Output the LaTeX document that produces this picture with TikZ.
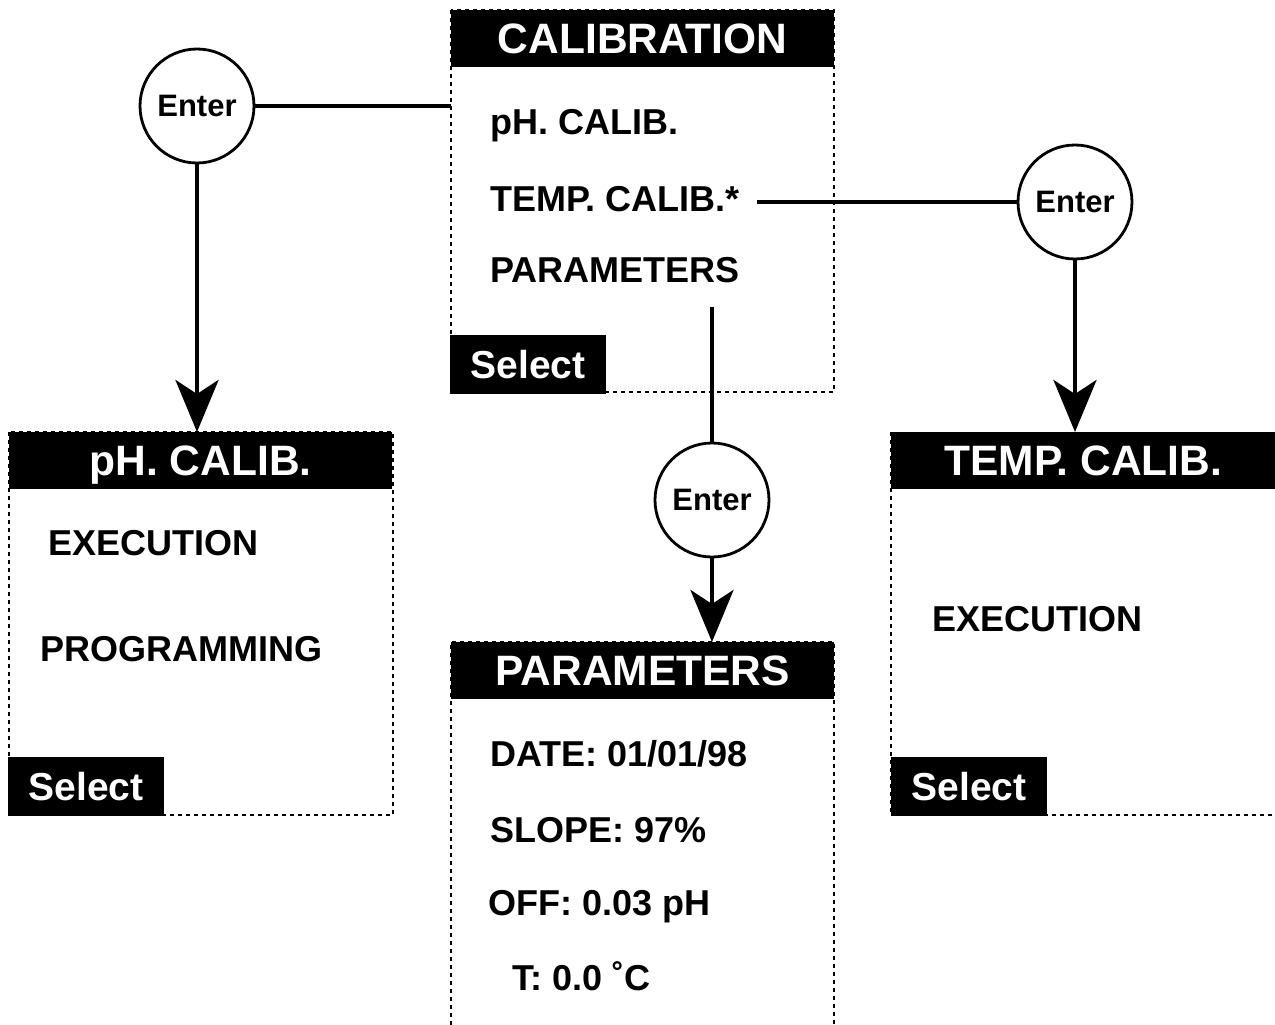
\documentclass[tikz,border=0pt]{standalone}
\usepackage{fontspec}
\setmainfont{Liberation Sans}
\usetikzlibrary{arrows.meta,positioning}

\tikzset{
  hdr/.style={fill=black, text=white, font=\fontsize{42.5}{48}\selectfont\bfseries,
    minimum width=383pt, minimum height=57pt, text height=30pt, text depth=0pt,
    inner sep=0pt, anchor=north west},
  selbar/.style={fill=black, text=white, font=\fontsize{39}{44}\selectfont\bfseries,
    minimum width=156pt, minimum height=59pt, text height=28pt, text depth=0pt,
    inner sep=0pt, anchor=north west},
  item/.style={font=\fontsize{36}{40}\selectfont\bfseries, anchor=base west, inner sep=0pt},
  enter/.style={circle, draw, fill=white, line width=2.8pt, minimum size=114pt,
    inner sep=0pt, font=\fontsize{31}{36}\selectfont\bfseries},
  frame/.style={dash pattern=on 4pt off 4pt, line width=2.4pt},
  link/.style={line width=3.6pt},
  arrow/.style={line width=4.5pt, -{Stealth[length=52pt, width=43pt, inset=14pt]}},
}

\begin{document}
\begin{tikzpicture}[x=1pt, y=-1pt]
  \useasboundingbox (0,0) rectangle (1275,1025);

  % 上：CALIBRATION 菜单
  \draw[frame] (451,10) rectangle (834,392);
  \node[hdr] (calibhdr) at (451,10) {CALIBRATION};
  \node[item] (phitem) at (490,134) {pH. CALIB.};
  \node[item] (tempitem) at (490,211) {TEMP. CALIB.*};
  \node[item] (paritem) at (490,282) {PARAMETERS};
  \node[selbar] (calibsel) at (450,335) {Select};

  % 左：pH. CALIB.
  \draw[frame] (9,432) rectangle (393,815);
  \node[hdr] (phhdr) at (9,432) {pH. CALIB.};
  \node[item] (phexec) at (48,555) {EXECUTION};
  \node[item] (phprog) at (40,661) {PROGRAMMING};
  \node[selbar] (phsel) at (8,757) {Select};

  % 右：TEMP. CALIB.
  \draw[frame] (891,432) -- (891,815) -- (1273,815);
  \node[hdr, minimum width=384pt] (temphdr) at (891,432) {TEMP. CALIB.};
  \node[item] (tempexec) at (932,631) {EXECUTION};
  \node[selbar] (tempsel) at (891,757) {Select};

  % 下：PARAMETERS
  \draw[frame] (451,1025) -- (451,642) -- (834,642) -- (834,1025);
  \node[hdr] (parhdr) at (451,642) {PARAMETERS};
  \node[item] (pardate) at (490,766) {DATE: 01/01/98};
  \node[item] (parslope) at (490,842) {SLOPE: 97\%};
  \node[item] (paroff) at (488,915) {OFF: 0.03 pH};
  \node[item] (partemp) at (512,990) {T: 0.0 ˚C};

  % Enter 圆
  \node[enter] (enter1) at (197,106) {Enter};
  \node[enter] (enter2) at (1075,202) {Enter};
  \node[enter] (enter3) at (712,500) {Enter};

  % 连线
  \coordinate (tempend) at ([xshift=17pt]tempitem.east);
  \coordinate (parend) at (712,307);
  \draw[link] (enter1.east) -- (enter1.east -| calibhdr.west);
  \draw[arrow] (enter1.south) -- (enter1.south |- phhdr.north);
  \draw[link] (tempend |- enter2) -- (enter2.west);
  \draw[arrow] (enter2.south) -- (enter2.south |- temphdr.north);
  \draw[link] (parend) -- (enter3.north);
  \draw[arrow] (enter3.south) -- (enter3.south |- parhdr.north);
\end{tikzpicture}
\end{document}
